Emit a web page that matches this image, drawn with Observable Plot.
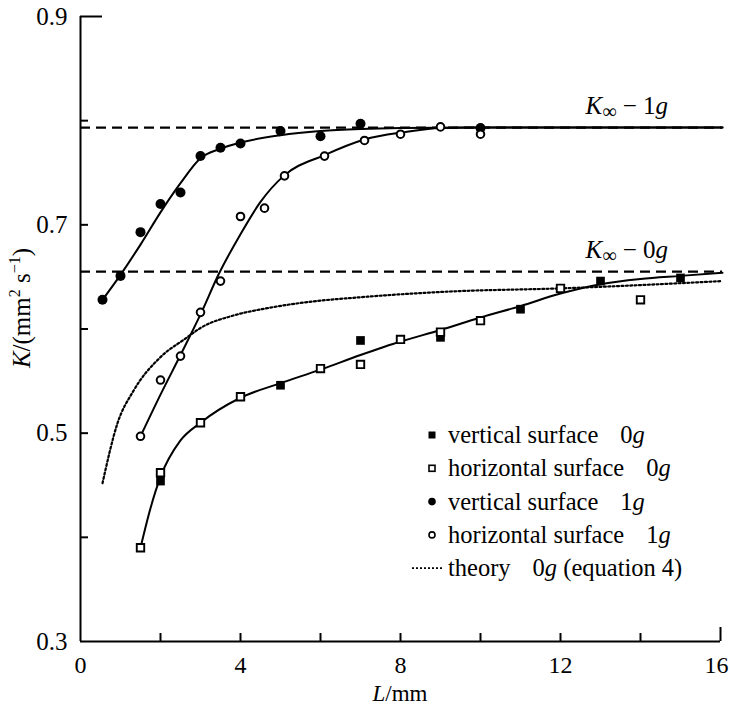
<!DOCTYPE html>
<html><head><meta charset="utf-8">
<script src="https://cdn.jsdelivr.net/npm/d3@7"></script>
<script src="https://cdn.jsdelivr.net/npm/@observablehq/plot@0.6"></script>
<style>body{margin:0;background:#fff} #chart{width:730px;height:706px}</style>
</head><body><div id="chart"></div>
<script>
// ---- data ----
// vertical surface 0g (filled squares)
const v0L = [2, 5, 7, 9, 11, 13, 15];
const v0K = [0.454, 0.546, 0.589, 0.592, 0.619, 0.646, 0.649];
// horizontal surface 0g (open squares)
const h0L = [1.5, 2, 3, 4, 6, 7, 8, 9, 10, 12, 14];
const h0K = [0.390, 0.462, 0.510, 0.535, 0.562, 0.566, 0.590, 0.597, 0.608, 0.639, 0.628];
// vertical surface 1g (filled circles)
const v1L = [0.55, 1, 1.5, 2, 2.5, 3, 3.5, 4, 5, 6, 7, 10];
const v1K = [0.628, 0.651, 0.693, 0.720, 0.731, 0.766, 0.774, 0.778, 0.790, 0.785, 0.797, 0.793];
// horizontal surface 1g (open circles)
const h1L = [1.5, 2, 2.5, 3, 3.5, 4, 4.6, 5.1, 6.1, 7.1, 8, 9, 10];
const h1K = [0.497, 0.551, 0.574, 0.616, 0.646, 0.708, 0.716, 0.747, 0.766, 0.781, 0.787, 0.794, 0.787];
// fitted curves (solid)
const fit0L = [1.5, 1.75, 2.0, 2.5, 3.0, 4.0, 5.0, 6.0, 7.0, 8.0, 9.0, 10.0, 11.0, 12.0, 13.0, 14.0, 15.0, 16.05];
const fit0K = [0.390, 0.428, 0.458, 0.493, 0.510, 0.534, 0.548, 0.561, 0.575, 0.588, 0.599, 0.611, 0.622, 0.634, 0.643, 0.648, 0.651, 0.654];
const fitV1L = [0.55, 1.0, 1.5, 2.0, 2.5, 3.0, 3.5, 4.0, 5.0, 6.0, 7.0, 8.0, 9.0, 10.0, 16.05];
const fitV1K = [0.628, 0.652, 0.681, 0.712, 0.740, 0.764, 0.773, 0.779, 0.786, 0.790, 0.792, 0.793, 0.7933, 0.7934, 0.7934];
const fitH1L = [1.5, 2.0, 2.5, 3.0, 3.46, 4.0, 4.5, 5.08, 6.1, 7.1, 8.1, 9.0, 10.0, 16.05];
const fitH1K = [0.497, 0.537, 0.575, 0.614, 0.653, 0.691, 0.722, 0.747, 0.767, 0.782, 0.789, 0.793, 0.7934, 0.7934];
// theory 0g (equation 4), dotted
const thL = [0.55, 0.92, 1.33, 2.0, 2.63, 3.0, 3.83, 4.67, 5.5, 7.17, 9.25, 12, 16.05];
const thK = [0.452, 0.509, 0.541, 0.573, 0.591, 0.601, 0.613, 0.620, 0.625, 0.631, 0.636, 0.639, 0.646];
// asymptotes K_inf
const asymK = [0.7934, 0.655];
const asymG = ["1", "0"];
const asymFrom = [0, 0];
const asymTo = [16.05, 16.05];
// axes ticks
const xTickLabels = [0, 4, 8, 12];
const xLastLabel = [16];
const xTicks = [2, 4, 6, 8, 10, 12, 14];
const yTickLabels = [0.3, 0.5, 0.7, 0.9];
const yTicks = [0.4, 0.5, 0.6, 0.7, 0.8];
// legend
const legendLabels = ["vertical surface", "horizontal surface", "vertical surface", "horizontal surface", "theory"];
const legendG = ["0", "0", "1", "1", "0"];
const legendTail = ["", "", "", "", " (equation 4)"];
const legendKind = ["fsq", "osq", "fci", "oci", "dot"];

const zip = (L, K) => L.map((l, i) => ({L: l, K: K[i]}));
const asym = asymK.map((k, i) => ({K: k, g: asymG[i], x1: asymFrom[i], x2: asymTo[i]}));

const FONT = "'Liberation Serif', 'Times New Roman', serif";
const plot = Plot.plot({
  width: 730, height: 706,
  marginLeft: 80, marginRight: 10, marginTop: 16, marginBottom: 65,
  style: {fontFamily: FONT, fontSize: "24px", background: "white", color: "black"},
  x: {domain: [0, 16], axis: null, label: null},
  y: {domain: [0.3, 0.9], axis: null, label: null},
  marks: [
    Plot.ruleY(asym, {y: "K", x1: "x1", x2: "x2", stroke: "black", strokeWidth: 2.2, strokeDasharray: "10,6"}),
    Plot.line(zip(thL, thK), {x: "L", y: "K", curve: "monotone-x", stroke: "black", strokeWidth: 2.2, strokeDasharray: "2,2.4"}),
    Plot.line(zip(fit0L, fit0K), {x: "L", y: "K", curve: "monotone-x", stroke: "black", strokeWidth: 2}),
    Plot.line(zip(fitV1L, fitV1K), {x: "L", y: "K", curve: "monotone-x", stroke: "black", strokeWidth: 2}),
    Plot.line(zip(fitH1L, fitH1K), {x: "L", y: "K", curve: "monotone-x", stroke: "black", strokeWidth: 2}),
    Plot.dot(zip(v0L, v0K), {x: "L", y: "K", symbol: "square", r: 4.9, fill: "black"}),
    Plot.dot(zip(h0L, h0K), {x: "L", y: "K", symbol: "square", r: 4.2, fill: "white", stroke: "black", strokeWidth: 1.9}),
    Plot.dot(zip(v1L, v1K), {x: "L", y: "K", symbol: "circle", r: 5, fill: "black"}),
    Plot.dot(zip(h1L, h1K), {x: "L", y: "K", symbol: "circle", r: 3.8, fill: "white", stroke: "black", strokeWidth: 2}),
    Plot.ruleX([0], {stroke: "black", strokeWidth: 2}),
    Plot.ruleY([0.3], {stroke: "black", strokeWidth: 2}),
    Plot.axisX(xTicks, {tickSize: 8, dy: -8, tickFormat: () => "", label: null, strokeWidth: 2}),
    Plot.axisX([16], {tickSize: 14, dy: -14, tickFormat: () => "", label: null, strokeWidth: 2}),
    Plot.axisX(xTickLabels, {tickSize: 0, tickPadding: 14, label: null, fontSize: 24}),
    Plot.axisX(xLastLabel, {tickSize: 0, tickPadding: 14, label: null, fontSize: 24, dx: -4}),
    Plot.axisY(yTicks, {tickSize: 8, dx: 8, tickFormat: () => "", label: null, strokeWidth: 2}),
    Plot.axisY([0.9], {tickSize: 22, dx: 22, tickFormat: () => "", label: null, strokeWidth: 2}),
    Plot.axisY(yTickLabels, {tickSize: 0, tickPadding: 13, label: null, fontSize: 25, tickFormat: d => d.toFixed(1)})
  ]
});
document.getElementById("chart").appendChild(plot);

const svg = d3.select(plot);
const sx = plot.scale("x"), sy = plot.scale("y");
const g = svg.append("g").attr("font-family", FONT).attr("font-size", 24).attr("fill", "black").attr("text-anchor", "start");

// axis titles
const yl = g.append("text").attr("transform", "translate(30,308) rotate(-90)").attr("text-anchor", "middle").attr("font-size", 25);
yl.append("tspan").attr("font-style", "italic").text("K");
yl.append("tspan").text("/(mm");
yl.append("tspan").attr("font-size", 16).attr("dy", -10).text("2");
yl.append("tspan").attr("dy", 10).text(" s");
yl.append("tspan").attr("font-size", 16).attr("dy", -10).text("−1");
yl.append("tspan").attr("dy", 10).text(")");

const xl = g.append("text").attr("x", sx.apply(8)).attr("y", 701).attr("text-anchor", "middle").attr("font-size", 23);
xl.append("tspan").attr("font-style", "italic").text("L");
xl.append("tspan").text("/mm");

// asymptote labels
asym.forEach(a => {
  const t = g.append("text").attr("x", sx.apply(a.x2) - 54).attr("y", sy.apply(a.K) - 13).attr("text-anchor", "end").attr("font-size", 25);
  t.append("tspan").attr("font-style", "italic").text("K");
  t.append("tspan").attr("font-size", 20).attr("dy", 4).text("∞");
  t.append("tspan").attr("dy", -4).text(" − " + a.g);
  t.append("tspan").attr("font-style", "italic").text("g");
});

// legend
legendLabels.forEach((lab, i) => {
  const cy = 435 + i * 33.3;
  const mx = 432;
  const k = legendKind[i];
  if (k === "fsq") g.append("rect").attr("x", mx - 3.5).attr("y", cy - 3.5).attr("width", 7).attr("height", 7).attr("fill", "black");
  if (k === "osq") g.append("rect").attr("x", mx - 3).attr("y", cy - 3).attr("width", 6).attr("height", 6).attr("fill", "white").attr("stroke", "black").attr("stroke-width", 1.6);
  if (k === "fci") g.append("circle").attr("cx", mx).attr("cy", cy).attr("r", 3.8).attr("fill", "black");
  if (k === "oci") g.append("circle").attr("cx", mx).attr("cy", cy).attr("r", 3).attr("fill", "white").attr("stroke", "black").attr("stroke-width", 1.6);
  if (k === "dot") g.append("line").attr("x1", 412).attr("x2", 443).attr("y1", cy).attr("y2", cy).attr("stroke", "black").attr("stroke-width", 1.8).attr("stroke-dasharray", "2,2");
  const t = g.append("text").attr("x", 448).attr("y", cy + 8).attr("text-anchor", "start").attr("font-size", 24.5);
  t.append("tspan").text(lab);
  t.append("tspan").attr("dx", 22).text(legendG[i]);
  t.append("tspan").attr("font-style", "italic").text("g");
  if (legendTail[i]) t.append("tspan").text(legendTail[i]);
});
</script>
</body></html>
